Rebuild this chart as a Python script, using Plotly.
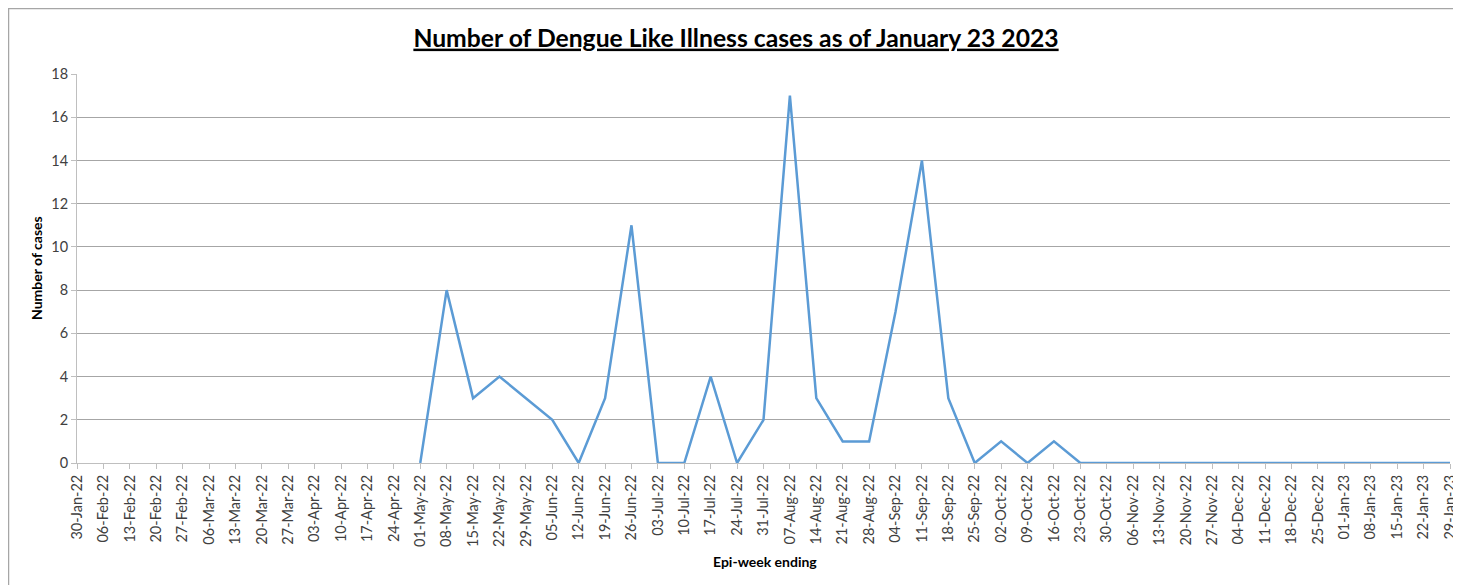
import plotly.graph_objects as go

weeks = ["30-Jan-22", "06-Feb-22", "13-Feb-22", "20-Feb-22", "27-Feb-22", "06-Mar-22",
         "13-Mar-22", "20-Mar-22", "27-Mar-22", "03-Apr-22", "10-Apr-22", "17-Apr-22",
         "24-Apr-22", "01-May-22", "08-May-22", "15-May-22", "22-May-22", "29-May-22",
         "05-Jun-22", "12-Jun-22", "19-Jun-22", "26-Jun-22", "03-Jul-22", "10-Jul-22",
         "17-Jul-22", "24-Jul-22", "31-Jul-22", "07-Aug-22", "14-Aug-22", "21-Aug-22",
         "28-Aug-22", "04-Sep-22", "11-Sep-22", "18-Sep-22", "25-Sep-22", "02-Oct-22",
         "09-Oct-22", "16-Oct-22", "23-Oct-22", "30-Oct-22", "06-Nov-22", "13-Nov-22",
         "20-Nov-22", "27-Nov-22", "04-Dec-22", "11-Dec-22", "18-Dec-22", "25-Dec-22",
         "01-Jan-23", "08-Jan-23", "15-Jan-23", "22-Jan-23", "29-Jan-23"]

cases = [None] * 13 + [0, 8, 3, 4, 3, 2, 0, 3, 11, 0, 0, 4, 0, 2, 17, 3, 1, 1, 7, 14, 3,
                       0, 1, 0, 1, 0] + [0] * 14

y_ticks = [0, 2, 4, 6, 8, 10, 12, 14, 16, 18]

# the page body has an 8px default margin; the figure is sized to fit the window
OFF = 8
W, H = 1461 - OFF, 585 - OFF
L, T = 77 - OFF, 74 - OFF
R = W - (1450 - OFF)
B = H - (463 - OFF)
pw, ph = W - L - R, H - T - B

FONT = "Lato"

fig = go.Figure()
fig.add_trace(go.Scatter(
    x=weeks, y=cases, mode="lines",
    line=dict(color="#5b9bd5", width=2.5),
    connectgaps=False, showlegend=False,
))

fig.update_layout(
    width=W, height=H,
    margin=dict(l=L, r=R, t=T, b=B, autoexpand=False),
    paper_bgcolor="white", plot_bgcolor="white",
    font=dict(family=FONT, color="#404040", size=13),
    title=dict(
        text="<b><u>Number of Dengue Like Illness cases as of January 23 2023</u></b>",
        x=(736 - OFF) / W, xanchor="center", y=1 - (38 - OFF) / H, yanchor="middle",
        font=dict(family=FONT, size=24.7, color="#000000"),
    ),
    xaxis=dict(
        type="category", categoryorder="array", categoryarray=weeks,
        range=[0, len(weeks) - 1], automargin=False,
        tickangle=-90, tickfont=dict(size=14.5, color="#404040"),
        showgrid=False, showline=True, linecolor="#bfbfbf", linewidth=1,
        ticks="outside", ticklen=5, tickcolor="#bfbfbf",
        zeroline=False,
    ),
    yaxis=dict(
        range=[0, 18], tickvals=y_ticks, automargin=False,
        tickfont=dict(size=14.5, color="#404040"),
        showgrid=True, gridcolor="#a6a6a6", gridwidth=1,
        showline=True, linecolor="#bfbfbf", linewidth=1,
        ticks="outside", ticklen=5, tickcolor="#bfbfbf",
        zeroline=False,
    ),
    annotations=[
        dict(text="<b>Epi-week ending</b>", xref="paper", yref="paper",
             x=(765 - 77) / pw, y=(463 - 561) / ph, showarrow=False,
             xanchor="center", yanchor="middle",
             font=dict(family=FONT, size=14, color="#000000")),
        dict(text="<b>Number of cases</b>", xref="paper", yref="paper",
             x=(36 - 77) / pw, y=(463 - 268) / ph, showarrow=False, textangle=-90,
             xanchor="center", yanchor="middle",
             font=dict(family=FONT, size=14, color="#000000")),
    ],
)

# outer chart border (left and top edges visible, like the reference)
fig.add_shape(
    type="rect", xref="paper", yref="paper",
    x0=(OFF + 0.5 - 77) / pw, x1=(1470 - 77) / pw,
    y0=(463 - 600) / ph, y1=(463 - OFF - 0.5) / ph,
    line=dict(color="#a6a6a6", width=1.5), fillcolor="rgba(0,0,0,0)", layer="below",
)

fig.write_html("out.html")
